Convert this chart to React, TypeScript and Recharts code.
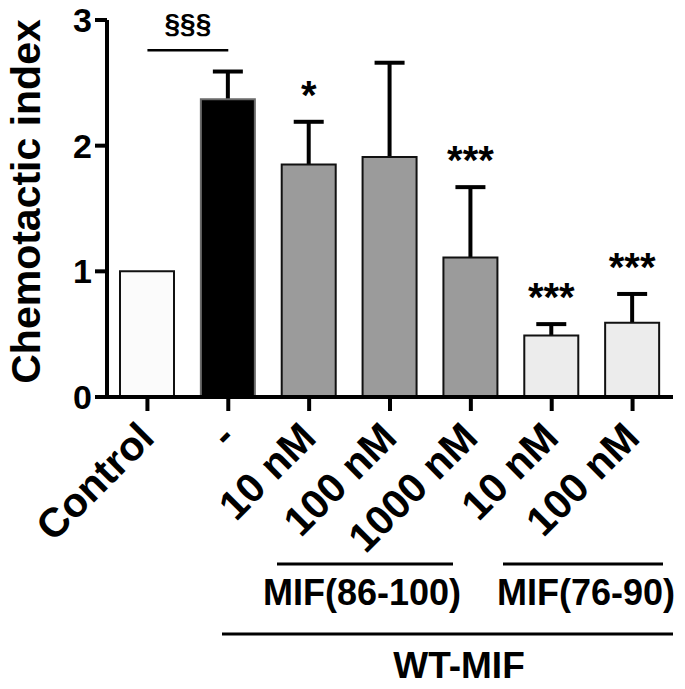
import React from "react";
import {
  BarChart,
  Bar,
  Cell,
  XAxis,
  YAxis,
  LabelList,
  ReferenceLine,
  Rectangle,
} from "recharts";

const CATEGORIES = ["Control", "-", "10 nM", "100 nM", "1000 nM", "10 nM", "100 nM"];
const MEANS = [1.0, 2.37, 1.85, 1.91, 1.11, 0.49, 0.59];
const SDS = [0, 0.22, 0.34, 0.75, 0.56, 0.09, 0.23];
const SIG = ["", "", "*", "", "***", "***", "***"];
const FILLS = ["#fbfbfb", "#000000", "#9b9b9b", "#9b9b9b", "#9b9b9b", "#ececec", "#ececec"];
const Y_TICKS = [0, 1, 2, 3];

const FONT = '"Liberation Sans", Arial, Helvetica, sans-serif';

const data = CATEGORIES.map((name, i) => ({
  name,
  mean: MEANS[i],
  sd: SDS[i],
  sig: SIG[i],
}));

function XTick(props: any) {
  const { x, y, payload } = props;
  return (
    <g transform={`translate(${x + 9},${y + 27})`}>
      <text
        x={0}
        y={0}
        textAnchor="end"
        transform="rotate(-45)"
        fontFamily={FONT}
        fontWeight="bold"
        fontSize={41}
        fill="#000"
      >
        {payload.value}
      </text>
    </g>
  );
}

// bar + upper whisker (SD), scaled from the bar's own pixel height
function BarWithSd(props: any) {
  const { x, y, width, height, payload } = props;
  const pxPerUnit = payload.mean ? height / payload.mean : 0;
  const cx = x + width / 2;
  const top = y - payload.sd * pxPerUnit;
  return (
    <g>
      {payload.sd > 0 && (
        <g stroke="#000" strokeWidth={4}>
          <line x1={cx} y1={y} x2={cx} y2={top} />
          <line x1={cx - 15} y1={top} x2={cx + 15} y2={top} />
        </g>
      )}
      <Rectangle {...props} />
    </g>
  );
}

// stars sit a fixed distance above the top of the error bar
function SigLabel(props: any) {
  const vb = props.viewBox ?? props;
  const { x, y, width, height } = vb;
  const i = props.index;
  if (!props.value) return null;
  const pxPerUnit = height / MEANS[i];
  const top = y - SDS[i] * pxPerUnit;
  return (
    <text
      x={x + width / 2}
      y={top - 13}
      textAnchor="middle"
      fontFamily={FONT}
      fontWeight="bold"
      fontSize={40}
      fill="#000"
    >
      {props.value}
    </text>
  );
}

function YLabel(props: any) {
  const vb = props.viewBox;
  const cx = vb.x + 40;
  const cy = vb.y + vb.height / 2 - 7;
  return (
    <text
      x={0}
      y={0}
      transform={`translate(${cx},${cy}) rotate(-90)`}
      textAnchor="middle"
      fontFamily={FONT}
      fontWeight="bold"
      fontSize={41}
      fill="#000"
    >
      Chemotactic index
    </text>
  );
}

export default function App() {
  return (
    <div style={{ position: "absolute", left: 0, top: 0, width: 685, height: 689, background: "#fff" }}>
      <BarChart
        width={685}
        height={689}
        data={data}
        margin={{ top: 20, right: 12, bottom: 0, left: 0 }}
      >
        <XAxis
          dataKey="name"
          height={292}
          interval={0}
          tickSize={14}
          tick={<XTick />}
          axisLine={{ stroke: "#000", strokeWidth: 4 }}
          tickLine={{ stroke: "#000", strokeWidth: 4 }}
        />
        <YAxis
          width={107}
          domain={[0, 3]}
          ticks={Y_TICKS}
          tickSize={12}
          tickMargin={3}
          axisLine={{ stroke: "#000", strokeWidth: 4 }}
          tickLine={{ stroke: "#000", strokeWidth: 4 }}
          tick={{ fontFamily: FONT, fontWeight: "bold", fontSize: 34, fill: "#000" }}
          label={{ content: (p: any) => <YLabel {...p} /> }}
        />
        {/* duplicated category names -> axis works on indices */}
        <ReferenceLine
          segment={[
            { x: 0, y: 2.76 },
            { x: 1, y: 2.76 },
          ]}
          stroke="#000"
          strokeWidth={2.5}
          label={{
            value: "§§§",
            position: "top",
            offset: 17,
            fontFamily: FONT,
            fontWeight: "bold",
            fontSize: 28,
            fill: "#000",
          }}
        />
        <Bar
          dataKey="mean"
          barSize={54}
          stroke="#111"
          strokeWidth={2}
          shape={(p: any) => <BarWithSd {...p} />}
          isAnimationActive={false}
        >
          {data.map((d, i) => (
            <Cell key={i} fill={FILLS[i]} stroke={i === 1 ? "#6a6a6a" : "#111"} />
          ))}
          <LabelList dataKey="sig" content={(p: any) => <SigLabel {...p} />} />
        </Bar>
      </BarChart>
      <svg
        width={685}
        height={689}
        style={{ position: "absolute", left: 0, top: 0, pointerEvents: "none" }}
        fontFamily={FONT}
        fontWeight="bold"
        fill="#000"
      >
        <line x1={277} y1={564} x2={453} y2={564} stroke="#000" strokeWidth={3} />
        <text x={263} y={605} fontSize={36}>
          MIF<tspan>(86-100)</tspan>
        </text>
        <line x1={503} y1={564} x2={663} y2={564} stroke="#000" strokeWidth={3} />
        <text x={497} y={605} fontSize={36}>
          MIF<tspan>(76-90)</tspan>
        </text>
        <line x1={222} y1={634} x2={673} y2={634} stroke="#000" strokeWidth={3} />
        <text x={459} y={678} fontSize={37} textAnchor="middle">
          WT-MIF
        </text>
      </svg>
    </div>
  );
}
